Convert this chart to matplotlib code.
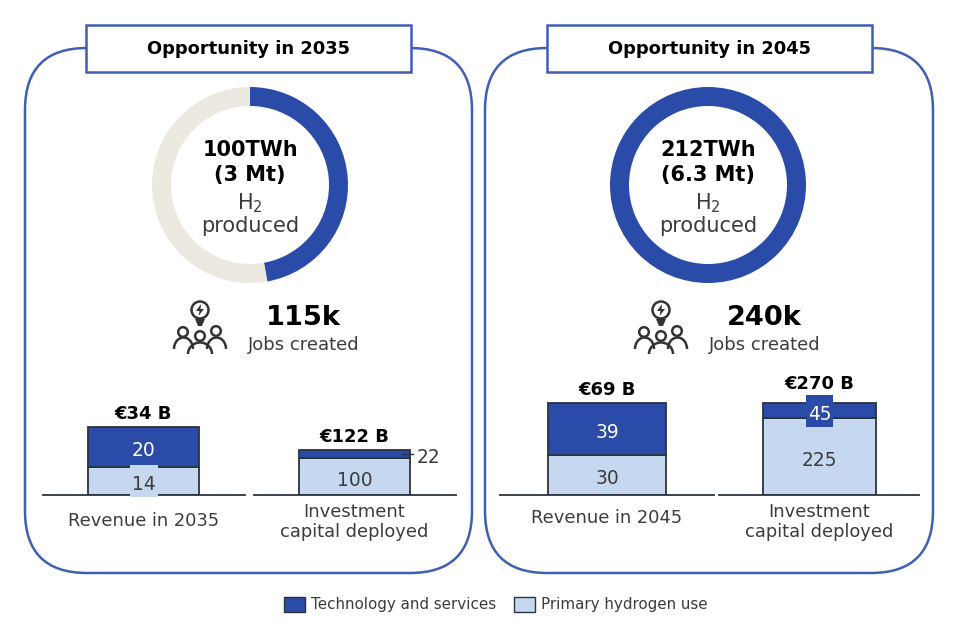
import matplotlib
matplotlib.use('Agg')
import matplotlib.pyplot as plt
from matplotlib.patches import FancyBboxPatch, Rectangle, Circle, Arc, Polygon

W, H = 960, 633

DARK = '#2A4BA8'
LIGHT = '#C6D8F0'
BEIGE = '#ECE9E0'
EDGE = '#3F5FB3'
LINE = '#2B3340'
TEXT = '#3c3c3c'

# data
titles = ['Opportunity in 2035', 'Opportunity in 2045']
twh = [100, 212]
twh_total = 212
twh_labels = [['100TWh', '(3 Mt)'], ['212TWh', '(6.3 Mt)']]
jobs = ['115k', '240k']
bar_names = ['Revenue in 2035', 'Investment\ncapital deployed', 'Revenue in 2045', 'Investment\ncapital deployed']
bar_totals = ['€34 B', '€122 B', '€69 B', '€270 B']
primary = [14, 100, 30, 225]
technology = [20, 22, 39, 45]
# px per unit differs per bar, every one has its own scale in the source
bar_scale = [2.0, 0.37, 1.333, 0.341]
bar_boxes = [(43, 245), (254, 456), (500, 714), (719, 919)]
bar_widths = [111, 111, 118, 113]
bar_centers = [143.5, 354.5, 607, 819.5]
name_y = [521, 522, 518, 522]
total_gap = [3, 3, 3, 7]

fig = plt.figure(figsize=(W / 100, H / 100), dpi=100)
plt.rcParams['font.family'] = 'DejaVu Sans'


def px_axes(left, top, right, bottom, z=1):
    return fig.add_axes([left / W, 1 - bottom / H, (right - left) / W, (bottom - top) / H], zorder=z)


bg = px_axes(0, 0, W, H, z=0)
bg.set_xlim(0, W)
bg.set_ylim(H, 0)
bg.axis('off')


def jobs_icon(ax, dx):
    c = '#333333'
    lw = 1.8
    ax.add_patch(Circle((200 + dx, 310), 8.5, fill=False, ec=c, lw=lw))
    ax.add_patch(Polygon([(201 + dx, 304), (196 + dx, 311), (199.5 + dx, 311), (198.5 + dx, 316), (204 + dx, 309), (200.5 + dx, 309)], fc=c, ec='none'))
    ax.add_patch(Polygon([(195 + dx, 319), (205 + dx, 319), (202 + dx, 326), (198 + dx, 326)], fc=c, ec='none'))
    for hx, hy in [(183, 332), (200, 336), (216, 331)]:
        ax.add_patch(Circle((hx + dx, hy), 4.8, fill=False, ec=c, lw=lw))
    for sx, sy, w in [(183.5, 349, 19), (216.5, 349, 19), (200, 354, 24)]:
        ax.add_patch(Arc((sx + dx, sy), w, 23, theta1=180, theta2=360, ec=c, lw=lw))


# panels, title boxes, jobs
for i, (left, right, tleft, tright) in enumerate([(25, 472, 86, 411), (485, 933, 547, 872)]):
    bg.add_patch(FancyBboxPatch((left + 62, 48 + 62), right - left - 124, 525 - 124,
                                boxstyle='round,pad=62,rounding_size=62', fc='white', ec=EDGE, lw=1.8))
    bg.add_patch(Rectangle((tleft, 25), tright - tleft, 47, fc='white', ec=EDGE, lw=1.8, zorder=3))
    bg.text((tleft + tright) / 2, 49.5, titles[i], ha='center', va='center', fontsize=12.9,
            fontweight='bold', color='black', zorder=4)
    dx = 0 if i == 0 else 461
    jobs_icon(bg, dx)
    bg.text(303.5 + dx, 318, jobs[i], ha='center', va='center', fontsize=19.6, fontweight='bold', color='black')
    bg.text(303.5 + dx, 345, 'Jobs created', ha='center', va='center', fontsize=13, color=TEXT)

# donuts
for i, cx in enumerate([250, 708]):
    ax = px_axes(cx - 100, 85, cx + 100, 285, z=2)
    rest = twh_total - twh[i]
    ax.pie([twh[i], rest], colors=[DARK, BEIGE], startangle=90, counterclock=False, radius=98,
           wedgeprops=dict(width=19, linewidth=0))
    ax.set_xlim(-100, 100)
    ax.set_ylim(-100, 100)
    ax.text(0, 35, twh_labels[i][0], ha='center', va='center', fontsize=15, fontweight='bold', color='black')
    ax.text(0, 10, twh_labels[i][1], ha='center', va='center', fontsize=15, fontweight='bold', color='black')
    ax.text(0, -18, 'H$_2$', ha='center', va='center', fontsize=15, color=TEXT)
    ax.text(0, -41, 'produced', ha='center', va='center', fontsize=15, color=TEXT)


def value_label(ax, x, y, txt, color, ha='center'):
    ax.annotate(txt, (x, y), xytext=(0, -3.5), textcoords='offset pixels', ha=ha, va='center',
                fontsize=13.4, color=color, zorder=5, annotation_clip=False)


# stacked bars, baseline at y=495
for i, (x0, x1) in enumerate(bar_boxes):
    ax = px_axes(x0, 375, x1, 495, z=2)
    ax.patch.set_alpha(0)
    ax.set_xlim(x0, x1)
    ax.set_ylim(0, 120 / bar_scale[i])
    bw = bar_widths[i]
    cx = bar_centers[i]
    ax.bar(cx, primary[i], width=bw, color=LIGHT, edgecolor=LINE, linewidth=1.3)
    ax.bar(cx, technology[i], bottom=primary[i], width=bw, color=DARK, edgecolor=LINE, linewidth=1.3)
    for s in ['top', 'left', 'right']:
        ax.spines[s].set_visible(False)
    ax.spines['bottom'].set_color(LINE)
    ax.spines['bottom'].set_linewidth(1.3)
    ax.set_xticks([])
    ax.set_yticks([])
    total = primary[i] + technology[i]
    ax.annotate(bar_totals[i], (cx, total), xytext=(0, total_gap[i]), textcoords='offset points', ha='center',
                va='bottom', fontsize=13, fontweight='bold', color='black', annotation_clip=False)
    # label backgrounds that break the bar outline
    if i == 0:
        ax.add_patch(Rectangle((130, 465), 28, 32, fc=LIGHT, ec='none', zorder=4, transform=bg.transData, clip_on=False))
    if i == 3:
        ax.add_patch(Rectangle((806, 395), 27, 32, fc=DARK, ec='none', zorder=4, transform=bg.transData, clip_on=False))
    value_label(ax, cx, primary[i] / 2, str(primary[i]), TEXT)
    if i == 1:
        mid = primary[i] + technology[i] / 2
        ax.plot([402, 413], [mid, mid], color=LINE, lw=1, zorder=5, clip_on=False)
        value_label(ax, 417, mid, str(technology[i]), TEXT, ha='left')
    else:
        value_label(ax, cx, primary[i] + technology[i] / 2, str(technology[i]), 'white')
    bg.text(cx, name_y[i], bar_names[i], ha='center', va='center', fontsize=12.9, color=TEXT, linespacing=1.15)

# legend
bg.add_patch(Rectangle((284, 597), 21, 15, fc=DARK, ec=LINE, lw=1))
bg.text(311, 605, 'Technology and services', ha='left', va='center', fontsize=10.9, color=TEXT)
bg.add_patch(Rectangle((514, 597), 21, 15, fc=LIGHT, ec=LINE, lw=1))
bg.text(541, 605, 'Primary hydrogen use', ha='left', va='center', fontsize=10.9, color=TEXT)

fig.savefig('out.png', dpi=100)
